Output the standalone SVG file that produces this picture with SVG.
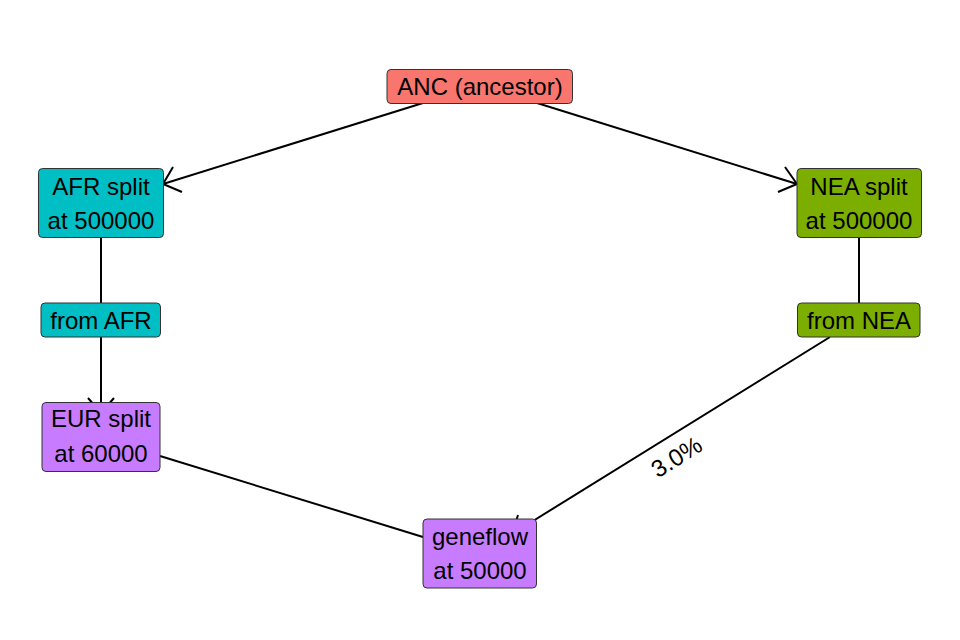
<svg xmlns="http://www.w3.org/2000/svg" width="960" height="640" viewBox="0 0 960 640">
<style>
.box{stroke:#333;stroke-width:1}
.anc{fill:#F8766D}.afr{fill:#00BFC4}.nea{fill:#7CAE00}.eur{fill:#C77CFF}
text{font-family:"Liberation Sans",Arial,sans-serif;font-size:24px;fill:#000;text-anchor:middle}
.edge{stroke:#000;stroke-width:2;fill:none}
</style>
<rect width="960" height="640" fill="#fff"/>
<g id="connectors">
<line class="edge" x1="423" y1="103" x2="163" y2="184"/>
<polyline class="edge" points="173,167 163,184 182,192"/>
<line class="edge" x1="537" y1="103" x2="797" y2="184"/>
<polyline class="edge" points="785,167 797,184 778,192"/>
<line class="edge" x1="101" y1="237" x2="101" y2="303"/>
<line class="edge" x1="101" y1="337" x2="101" y2="413"/>
<polyline class="edge" points="88,398 101,413 114,398"/>
<line class="edge" x1="859" y1="237" x2="859" y2="303"/>
<line class="edge" x1="830" y1="337" x2="512" y2="534"/>
<polyline class="edge" points="518,515 512,534 532,537"/>
<line class="edge" x1="160" y1="456" x2="423" y2="537"/>
<text transform="translate(681,464) rotate(-32)" font-size="22">3.0%</text>
</g>
<g id="anc">
<rect class="box anc" x="387" y="69.5" width="185.5" height="34" rx="4"/>
<text x="480" y="95">ANC (ancestor)</text>
</g>
<g id="afr">
<rect class="box afr" x="38.5" y="168.5" width="125" height="69" rx="4"/>
<text x="101" y="195">AFR split</text>
<text x="101" y="228.5">at 500000</text>
</g>
<g id="fromafr">
<rect class="box afr" x="41" y="303" width="119.5" height="34" rx="4"/>
<text x="101" y="328.5">from AFR</text>
</g>
<g id="eur">
<rect class="box eur" x="42" y="402.5" width="118" height="69" rx="4"/>
<text x="101" y="427">EUR split</text>
<text x="101" y="461.5">at 60000</text>
</g>
<g id="geneflow">
<rect class="box eur" x="423" y="519" width="113.5" height="69" rx="4"/>
<text x="480" y="545">geneflow</text>
<text x="480" y="578.5">at 50000</text>
</g>
<g id="nea">
<rect class="box nea" x="797" y="168.5" width="124.5" height="69" rx="4"/>
<text x="859" y="195">NEA split</text>
<text x="859" y="228.5">at 500000</text>
</g>
<g id="fromnea">
<rect class="box nea" x="797.5" y="303" width="122.5" height="34" rx="4"/>
<text x="859" y="328.5">from NEA</text>
</g>
</svg>
